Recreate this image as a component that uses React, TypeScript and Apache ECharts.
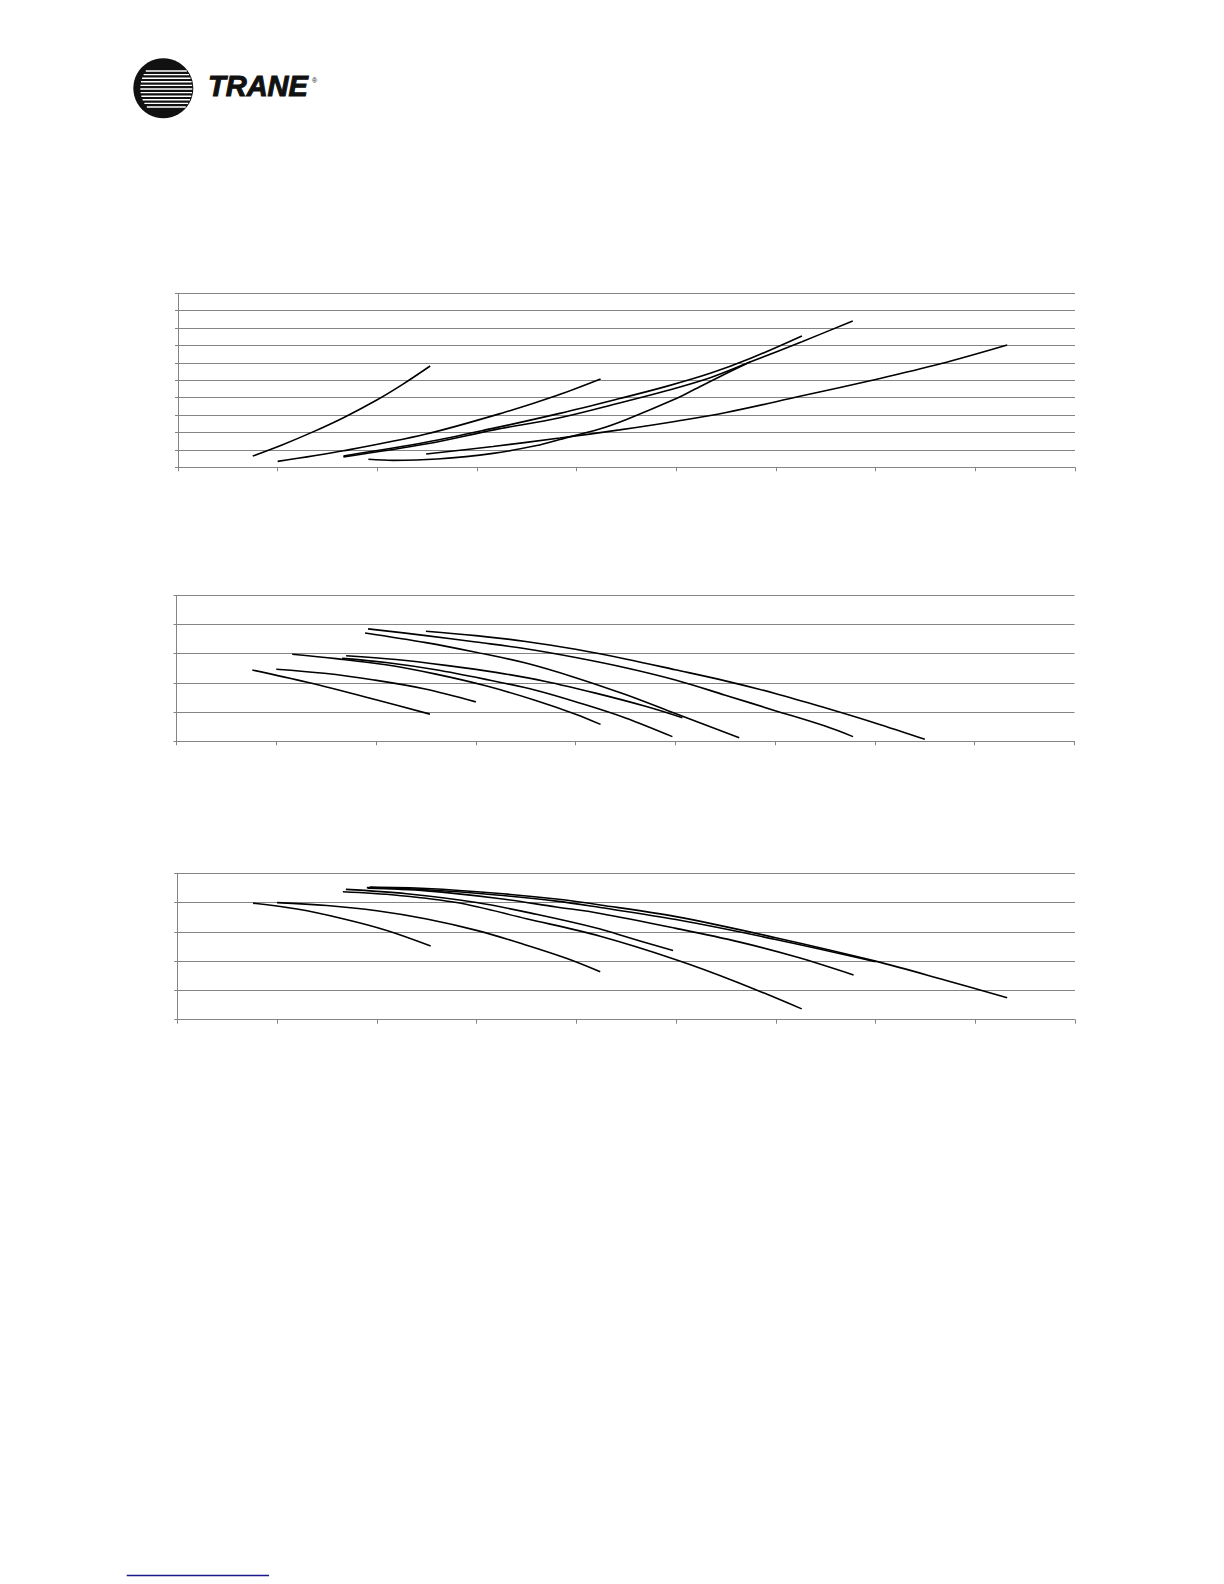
import React, { useEffect, useRef } from "react";
import * as echarts from "echarts";

// ---- Chart 1 (upper) ----
const c1A: number[][] = [[0.75, 0.65], [1.05, 1.3], [1.36, 2.05], [1.66, 2.85], [1.99, 3.85], [2.25, 4.75], [2.53, 5.82]];
const c1B: number[][] = [[1.0, 0.34], [1.66, 0.95], [2.49, 1.91], [3.33, 3.25], [3.8, 4.12], [4.24, 5.07]];
const c1C: number[][] = [[1.66, 0.65], [2.5, 1.45], [3.17, 2.25], [3.83, 3.1], [4.43, 3.95], [4.9, 4.65], [5.34, 5.4], [5.74, 6.25], [6.26, 7.55]];
const c1D: number[][] = [[1.66, 0.6], [2.5, 1.35], [3.17, 2.15], [3.83, 2.85], [4.43, 3.7], [4.9, 4.4], [5.34, 5.15], [5.74, 6.05], [6.26, 7.22], [6.77, 8.41]];
const c1E: number[][] = [[1.91, 0.46], [2.16, 0.4], [2.6, 0.48], [3.16, 0.8], [3.6, 1.25], [3.83, 1.6], [4.23, 2.2], [4.5, 2.75], [5.0, 3.95], [5.17, 4.44], [5.45, 5.25], [5.74, 6.05]];
const c1F: number[][] = [[2.49, 0.76], [3.16, 1.2], [3.83, 1.68], [4.43, 2.15], [5.0, 2.65], [5.5, 3.15], [6.24, 4.08], [7.0, 5.05], [7.65, 5.95], [8.32, 7.03]];

// ---- Chart 2 (middle) ----
const c2P1: number[][] = [[0.76, 2.44], [1.31, 2.02], [1.98, 1.44], [2.54, 0.93]];
const c2P2: number[][] = [[1.0, 2.47], [1.48, 2.33], [1.98, 2.1], [2.48, 1.8], [3.0, 1.35]];
const c2P3: number[][] = [[1.16, 2.98], [1.6, 2.83], [2.1, 2.62], [2.6, 2.3], [3.1, 1.9], [3.6, 1.4], [4.0, 0.93], [4.25, 0.58]];
const c2P4: number[][] = [[1.66, 2.84], [2.1, 2.7], [2.6, 2.45], [3.1, 2.12], [3.6, 1.75], [4.1, 1.25], [4.5, 0.8], [4.97, 0.16]];
const c2P5: number[][] = [[1.7, 2.93], [2.2, 2.8], [2.7, 2.6], [3.2, 2.36], [3.7, 2.05], [4.2, 1.65], [4.7, 1.2], [5.07, 0.81]];
const c2P6: number[][] = [[1.89, 3.71], [2.5, 3.38], [3.0, 3.05], [3.5, 2.68], [4.0, 2.18], [4.5, 1.6], [5.0, 0.95], [5.64, 0.12]];
const c2P7: number[][] = [[1.92, 3.85], [2.5, 3.62], [3.0, 3.4], [3.5, 3.17], [4.0, 2.87], [4.5, 2.52], [5.0, 2.1], [5.5, 1.58], [6.0, 1.05], [6.5, 0.52], [6.78, 0.16]];
const c2P8: number[][] = [[2.5, 3.77], [3.0, 3.62], [3.5, 3.42], [4.0, 3.15], [4.5, 2.82], [5.0, 2.45], [5.5, 2.07], [6.0, 1.64], [6.5, 1.15], [7.0, 0.63], [7.5, 0.07]];

// ---- Chart 3 (lower) ----
const c3Q1: number[][] = [[0.76, 3.98], [1.2, 3.78], [1.66, 3.45], [2.1, 3.05], [2.54, 2.52]];
const c3Q2: number[][] = [[1.0, 4.0], [1.5, 3.9], [2.0, 3.72], [2.5, 3.44], [3.0, 3.05], [3.47, 2.58], [3.9, 2.1], [4.24, 1.64]];
const c3Q3: number[][] = [[1.66, 4.37], [2.2, 4.25], [2.8, 4.0], [3.5, 3.45], [4.24, 2.85], [5.0, 2.05], [5.6, 1.3], [6.26, 0.37]];
const c3Q4: number[][] = [[1.69, 4.45], [2.3, 4.3], [3.0, 4.0], [3.6, 3.6], [4.24, 3.1], [4.44, 2.89], [4.97, 2.36]];
const c3Q5: number[][] = [[1.91, 4.49], [2.5, 4.4], [3.2, 4.15], [3.8, 3.85], [4.24, 3.63], [5.0, 3.12], [5.64, 2.65], [6.2, 2.15], [6.78, 1.53]];
const c3Q6: number[][] = [[1.93, 4.53], [2.5, 4.48], [3.2, 4.32], [3.8, 4.12], [4.24, 3.92], [5.0, 3.52], [6.0, 2.8], [7.0, 2.0], [7.7, 1.35], [8.32, 0.75]];
const c3Q7: number[][] = [[1.9, 4.51], [2.5, 4.44], [3.2, 4.26], [3.8, 4.05], [4.24, 3.83], [5.0, 3.42], [6.0, 2.74], [7.0, 1.98]];

const xMin = 0, xMax = 9, xStep = 1;
const y1Max = 10, y2Max = 5, y3Max = 5;

const chart1 = [c1A, c1B, c1C, c1D, c1E, c1F];
const chart2 = [c2P1, c2P2, c2P3, c2P4, c2P5, c2P6, c2P7, c2P8];
const chart3 = [c3Q1, c3Q2, c3Q3, c3Q4, c3Q5, c3Q6, c3Q7];

const GRAY = "#858585";

export default function App() {
  const ref = useRef<HTMLDivElement>(null);
  useEffect(() => {
    if (!ref.current) return;
    const chart = echarts.init(ref.current, null, { renderer: "svg" });

    const grids = [
      { left: 178, top: 293.3, width: 897, height: 174 },
      { left: 176.5, top: 595.3, width: 898, height: 146 },
      { left: 177.3, top: 873.3, width: 897.7, height: 146.4 },
    ];
    const yMaxes = [y1Max, y2Max, y3Max];
    const xAxes = grids.map((_, i) => ({
      type: "value",
      gridIndex: i,
      min: xMin,
      max: xMax,
      interval: xStep,
      axisLine: { show: true, lineStyle: { color: GRAY, width: 1 } },
      axisTick: { show: true, length: 4, lineStyle: { color: GRAY } },
      axisLabel: { show: false },
      splitLine: { show: false },
    }));
    const yAxes = grids.map((_, i) => ({
      type: "value",
      gridIndex: i,
      min: 0,
      max: yMaxes[i],
      interval: 1,
      axisLine: { show: true, lineStyle: { color: GRAY, width: 1 } },
      axisTick: { show: true, length: 3, lineStyle: { color: GRAY } },
      axisLabel: { show: false },
      splitLine: { show: true, lineStyle: { color: GRAY, width: 1 } },
    }));

    const series: any[] = [];
    [chart1, chart2, chart3].forEach((set, gi) => {
      set.forEach((d, k) => {
        series.push({
          type: "line",
          name: `c${gi + 1}-${k + 1}`,
          xAxisIndex: gi,
          yAxisIndex: gi,
          data: d,
          smooth: 0.35,
          showSymbol: false,
          symbol: "none",
          lineStyle: { color: "#000", width: 1.6 },
          silent: true,
        });
      });
    });

    // Logo graphic
    const cx = 163.3, cy = 88.3, r = 30;
    const stripes: any[] = [];
    for (let yy = 71; yy <= 107; yy += 3.6) {
      const dy = yy - cy;
      const half = Math.sqrt(Math.max(0, r * r - dy * dy));
      stripes.push({
        type: "line",
        shape: { x1: cx - half + 7, y1: yy, x2: cx + half - 1, y2: yy },
        style: { stroke: "#fff", lineWidth: 1.4 },
      });
    }

    chart.setOption({
      animation: false,
      backgroundColor: "#fff",
      grid: grids,
      xAxis: xAxes,
      yAxis: yAxes,
      series,
      graphic: [
        { type: "circle", shape: { cx, cy, r }, style: { fill: "#111" } },
        ...stripes,
        {
          type: "text",
          x: 208,
          y: 86,
          style: {
            text: "TRANE",
            font: "italic bold 29px 'Liberation Sans', Arial, sans-serif",
            fill: "#111",
            stroke: "#111",
            lineWidth: 1,
            textVerticalAlign: "middle",
          },
        },
        {
          type: "text",
          x: 312,
          y: 80,
          style: { text: "®", font: "7px 'Liberation Sans', Arial, sans-serif", fill: "#111", textVerticalAlign: "middle" },
        },
        {
          type: "line",
          shape: { x1: 126.7, y1: 1575.5, x2: 269, y2: 1575.5 },
          style: { stroke: "#1a1a8a", lineWidth: 1.5 },
        },
      ],
    });
    return () => chart.dispose();
  }, []);
  return (
    <div
      ref={ref}
      style={{ position: "absolute", left: 0, top: 0, width: 1224, height: 1584, background: "#fff" }}
    />
  );
}
